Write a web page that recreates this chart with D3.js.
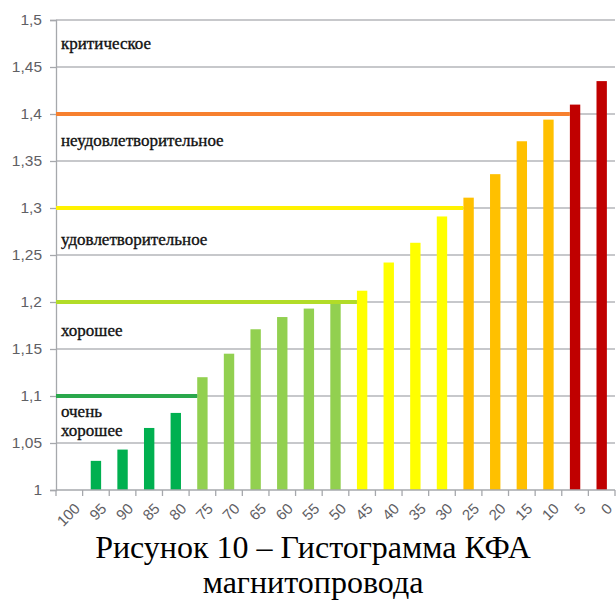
<!DOCTYPE html>
<html>
<head>
<meta charset="utf-8">
<script src="https://cdn.jsdelivr.net/npm/d3@7"></script>
<style>
  html, body { margin: 0; padding: 0; background: #ffffff; }
  svg { display: block; }
</style>
</head>
<body>
<svg id="chart" width="616" height="601"></svg>
<script>
// Categories along the x axis
const categories = ["100", "95", "90", "85", "80", "75", "70", "65", "60", "55", "50",
                    "45", "40", "35", "30", "25", "20", "15", "10", "5", "0"];
// КФА values per category
const values = [1.000, 1.031, 1.043, 1.066, 1.082, 1.120, 1.145, 1.171, 1.184, 1.193, 1.198,
                1.212, 1.242, 1.263, 1.291, 1.311, 1.336, 1.371, 1.394, 1.410, 1.435];
// Condition zone of each category (index into zoneColors)
const zoneOf = [0, 0, 0, 0, 0, 1, 1, 1, 1, 1, 1, 2, 2, 2, 2, 3, 3, 3, 3, 4, 4];
const zoneColors = ["#00b050", "#92d050", "#ffff00", "#ffc000", "#c00000"];

// Y axis ticks
const yTicks = [1, 1.05, 1.1, 1.15, 1.2, 1.25, 1.3, 1.35, 1.4, 1.45, 1.5];
const yTickLabels = ["1", "1,05", "1,1", "1,15", "1,2", "1,25", "1,3", "1,35", "1,4", "1,45", "1,5"];

// Zone boundaries: value, category where the line stops, colour
const thresholds = [1.1, 1.2, 1.3, 1.4];
const thresholdEnds = ["75", "45", "25", "5"];
const thresholdColors = ["#2aa84c", "#b2dc28", "#fff200", "#f7802e"];

// Zone captions (top to bottom)
const zoneLabels = [["критическое"], ["неудовлетворительное"], ["удовлетворительное"], ["хорошее"], ["очень", "хорошее"]];
const zoneUpper = [1.5, 1.4, 1.3, 1.2, 1.1];

const captionLines = ["Рисунок 10 – Гистограмма КФА", "магнитопровода"];

const svg = d3.select("#chart");
const plotLeft = 56, plotRight = 615, plotTop = 20, plotBottom = 490;

const x = d3.scaleBand()
  .domain(categories)
  .range([plotLeft, plotRight])
  .paddingInner(0.61)
  .paddingOuter(0.305);

const y = d3.scaleLinear().domain([1, 1.5]).range([plotBottom, plotTop]);

// Horizontal gridlines
svg.append("g")
  .selectAll("line")
  .data(yTicks.slice(1))
  .join("line")
  .attr("x1", plotLeft).attr("x2", plotRight)
  .attr("y1", d => y(d)).attr("y2", d => y(d))
  .attr("stroke", "#b4b6ba")
  .attr("stroke-width", 1.3);

// Y axis
const yAxis = d3.axisLeft(y)
  .tickValues(yTicks)
  .tickFormat((d, i) => yTickLabels[i])
  .tickSize(6)
  .tickPadding(8);
const gy = svg.append("g").attr("transform", `translate(${plotLeft},0)`).call(yAxis);
gy.select(".domain").attr("stroke", "#a6a8ac").attr("stroke-width", 1.3);
gy.selectAll(".tick line").attr("stroke", "#a6a8ac").attr("stroke-width", 1.3);
gy.selectAll(".tick text")
  .attr("fill", "#5f6064")
  .style("font-family", "'Liberation Sans', Arial, sans-serif")
  .style("font-size", "15.5px");

// Bars
svg.append("g")
  .selectAll("rect")
  .data(values)
  .join("rect")
  .attr("x", (d, i) => x(categories[i]))
  .attr("width", x.bandwidth())
  .attr("y", d => y(d))
  .attr("height", d => y(1) - y(d))
  .attr("fill", (d, i) => zoneColors[zoneOf[i]]);

// X axis
const step = x.step();
const gx = svg.append("g").attr("transform", `translate(0,${plotBottom})`);
gx.append("line")
  .attr("x1", plotLeft).attr("x2", plotRight)
  .attr("stroke", "#a6a8ac").attr("stroke-width", 1.3);
gx.selectAll("line.tk")
  .data(d3.range(categories.length + 1))
  .join("line")
  .attr("class", "tk")
  .attr("x1", i => plotLeft + i * step).attr("x2", i => plotLeft + i * step)
  .attr("y1", 0).attr("y2", 6)
  .attr("stroke", "#a6a8ac").attr("stroke-width", 1.3);
gx.selectAll("text")
  .data(categories)
  .join("text")
  .attr("transform", d => `translate(${x(d) + x.bandwidth() / 2 + 4},${12}) rotate(-45)`)
  .attr("text-anchor", "end")
  .attr("dy", "0.71em")
  .attr("fill", "#5f6064")
  .style("font-family", "'Liberation Sans', Arial, sans-serif")
  .style("font-size", "15px")
  .text(d => d);

// Zone boundary lines
svg.append("g")
  .selectAll("line")
  .data(thresholds)
  .join("line")
  .attr("x1", plotLeft)
  .attr("x2", (d, i) => x(thresholdEnds[i]))
  .attr("y1", d => y(d)).attr("y2", d => y(d))
  .attr("stroke", (d, i) => thresholdColors[i])
  .attr("stroke-width", 4);

// Zone captions
const labelDy = [29, 32, 37, 34, 21];
const zl = svg.append("g")
  .style("font-family", "'Liberation Serif', 'Times New Roman', serif")
  .style("font-size", "17px")
  .attr("fill", "#111")
  .attr("stroke", "#111")
  .attr("stroke-width", 0.35);
zoneLabels.forEach((lines, i) => {
  lines.forEach((t, j) => {
    zl.append("text")
      .attr("x", 61)
      .attr("y", y(zoneUpper[i]) + labelDy[i] + j * 19)
      .text(t);
  });
});

// Figure caption
svg.append("g")
  .selectAll("text")
  .data(captionLines)
  .join("text")
  .attr("x", 313)
  .attr("y", (d, i) => 558 + i * 35)
  .attr("text-anchor", "middle")
  .attr("fill", "#000")
  .style("font-family", "'Liberation Serif', 'Times New Roman', serif")
  .style("font-size", "32px")
  .text(d => d);
</script>
</body>
</html>
